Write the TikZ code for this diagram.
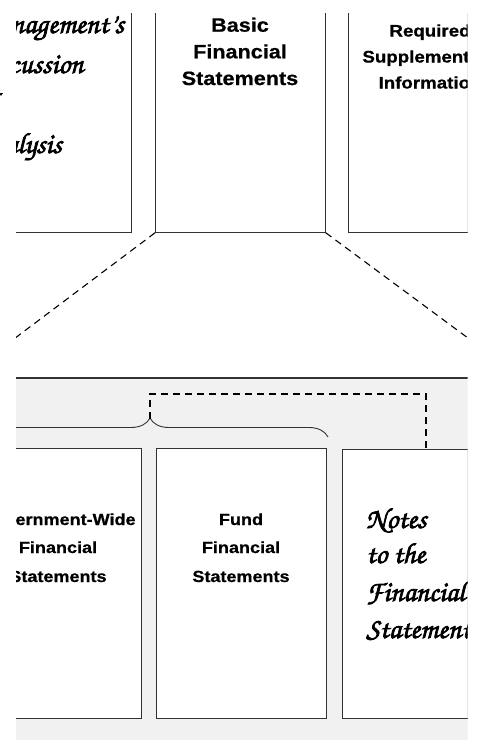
\documentclass[tikz,border=0pt]{standalone}
\usepackage[T1]{fontenc}
\usepackage{fontspec}
\newfontfamily\hv[FakeStretch=1.12, BoldFeatures={FakeBold=0.7}]{Liberation Sans}
\newcommand\chancery{\fontencoding{T1}\fontfamily{pzc}\fontseries{mb}\fontshape{it}\selectfont}
\newcommand\heavyink[1]{\special{pdf:literal 2 Tr 0.7 w}#1\special{pdf:literal 0 Tr}}
\usetikzlibrary{decorations.pathreplacing,shadows}
\definecolor{panel}{RGB}{241,241,241}
\definecolor{edge}{RGB}{50,50,50}
\definecolor{shade}{RGB}{150,150,150}
\tikzset{
  doc/.style={draw=edge, fill=white, line width=0.8pt, inner sep=0pt, anchor=north west,
    drop shadow={shadow xshift=0.9pt, shadow yshift=-0.9pt, fill=shade, opacity=1}},
  bigtxt/.style={font=\hv\bfseries\fontsize{19.3}{24}\selectfont, anchor=base, inner sep=0pt},
  midtxt/.style={font=\hv\bfseries\fontsize{16.7}{20}\selectfont, anchor=base, inner sep=0pt},
  smltxt/.style={font=\hv\bfseries\fontsize{16.1}{20}\selectfont, anchor=base, inner sep=0pt},
  scripttxt/.style={font=\chancery\fontsize{29}{33}\selectfont, anchor=base west, inner sep=0pt},
  diag/.style={draw=black, line width=1.1pt, dash pattern=on 7pt off 5pt},
  linkline/.style={draw=black, line width=1.5pt, dash pattern=on 7pt off 5pt},
  bracestyle/.style={draw=edge, line width=0.9pt, decorate, decoration={brace, amplitude=19pt}}
}
\begin{document}
\begin{tikzpicture}[x=1pt,y=-1pt]
\useasboundingbox (0,0) rectangle (478,740);
\node[scripttxt, anchor=base east] (mda3) at (-3,113) {\heavyink{and}};
\begin{scope}
\clip (16,13) rectangle (467.5,740);
% lower panel
\fill[panel] (-40,378) rectangle (530,745);
\coordinate (pl) at (-40,378);
\coordinate (pr) at (530,378);
\draw[edge, line width=1.4pt] (pl) -- (pr);
% top boxes
\node[doc, minimum width=170pt, minimum height=242pt] (mda) at (-39,-10) {};
\node[doc, minimum width=170pt, minimum height=242pt] (bfs) at (155,-10) {};
\node[doc, minimum width=170pt, minimum height=242pt] (rsi) at (348,-10) {};
% top texts
\node[scripttxt] (mda1) at (-26,33) {\heavyink{Management's}};
\node[scripttxt] (mda2) at (-27,73) {\heavyink{Discussion}};
\node[scripttxt] (mda4) at (-26,153) {\heavyink{Analysis}};
\node[bigtxt] (bfs1) at (240,31.7) {Basic};
\node[bigtxt] (bfs2) at (240,58.3) {Financial};
\node[bigtxt] (bfs3) at (240,85) {Statements};
\node[midtxt] (rsi1) at (430,36.5) {Required};
\node[midtxt] (rsi2) at (430,62.5) {Supplementary};
\node[midtxt] (rsi3) at (430,88.5) {Information};
% dashed fan-out
\coordinate (dl) at (-38,378);
\coordinate (dr) at (522,378);
\draw[diag] (bfs.south west) -- (dl);
\draw[diag] (bfs.south east) -- (dr);
% bottom boxes
\node[doc, minimum width=170pt, minimum height=270pt] (gw) at (-29,448) {};
\node[doc, minimum width=170pt, minimum height=270pt] (fund) at (156,448) {};
\node[doc, minimum width=170pt, minimum height=269pt] (notes) at (342,449) {};
\node[smltxt] (gw1) at (58,525) {Government-Wide};
\node[smltxt] (gw2) at (58,553) {Financial};
\node[smltxt] (gw3) at (58,582) {Statements};
\node[smltxt] (fund1) at (241,525) {Fund};
\node[smltxt] (fund2) at (241,553) {Financial};
\node[smltxt] (fund3) at (241,582) {Statements};
\node[scripttxt] (notes1) at (366,528) {\heavyink{Notes}};
\node[scripttxt] (notes2) at (366,563) {\heavyink{to the}};
\node[scripttxt] (notes3) at (366,601) {\heavyink{Financial}};
\node[scripttxt] (notes4) at (366,638) {\heavyink{Statements}};
% brace and link
\coordinate (bl) at (-28,437);
\coordinate (br) at (328,437);
\draw[bracestyle] (bl) -- (br);
\coordinate (tip) at (150,419);
\coordinate (bend) at (426,394);
\draw[linkline] (tip) |- (bend) -- (bend |- notes.north);
\end{scope}
\end{tikzpicture}
\end{document}
